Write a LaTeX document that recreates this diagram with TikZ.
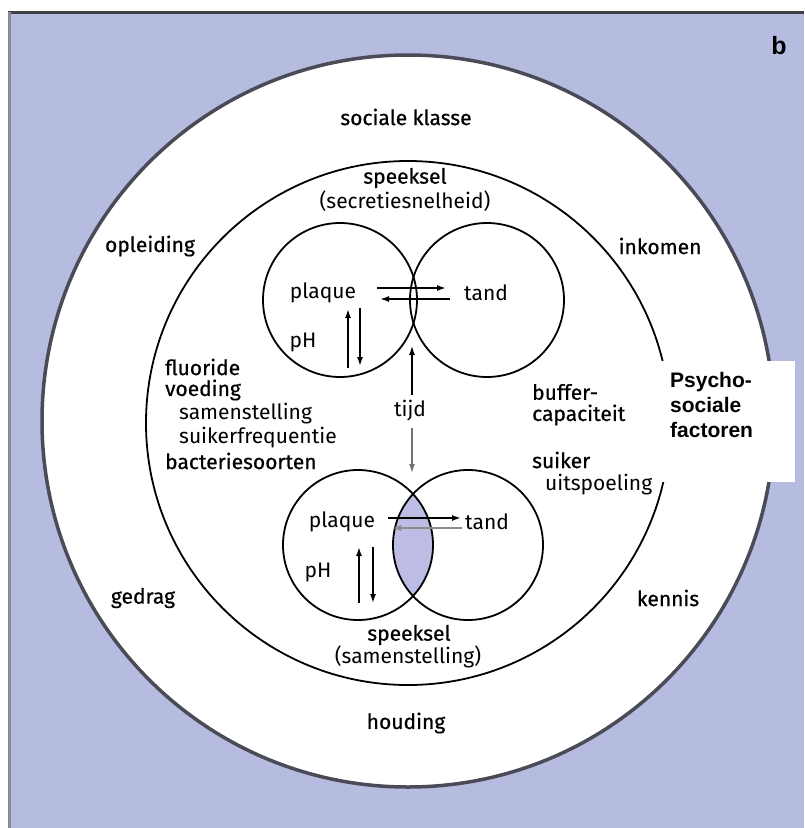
\documentclass[tikz,border=0pt]{standalone}
\usepackage{fontspec}
\setmainfont{Fira Sans}
\newfontfamily\medfont{Fira Sans}[FakeBold=0.6]
\newfontfamily\arialb{Liberation Sans Bold}
\usetikzlibrary{arrows.meta}
\definecolor{panel}{RGB}{182,187,224}
\definecolor{lensc}{RGB}{188,188,228}
\definecolor{ring}{RGB}{75,75,88}
\tikzset{
  lbl/.style={inner sep=0pt, font=\fontsize{21}{23.5}\selectfont},
  lblm/.style={inner sep=0pt, font=\medfont\fontsize{21}{23.5}\selectfont},
  arr/.style={line width=1.6pt, -{Latex[length=9pt,width=6pt]}},
  thin/.style={line width=1.8pt, draw=black},
}
\begin{document}
\begin{tikzpicture}[x=1pt,y=-1pt]
\useasboundingbox (0,0) rectangle (804,828);
\fill[white] (0,0) rectangle (804,828);
% panel
\fill[panel] (8,12) rectangle (804,828);
\draw[line width=3pt, draw=black!75] (8,12) -- (804,12);
\draw[line width=3pt, draw=black!45] (9,12) -- (9,828);
\node[font=\arialb\fontsize{25}{28}\selectfont, inner sep=0pt] (b) at (779,46) {b};
% outer and middle circles
\fill[white] (408,421) circle[radius=366];
\draw[line width=3.5pt, draw=ring] (408,421) circle[radius=366];
\draw[thin] (408,423) circle[radius=262];
% lens
\begin{scope}
\clip (358,545) circle[radius=75];
\fill[lensc] (468,545) circle[radius=75];
\end{scope}
% small circles
\draw[thin] (340,300) circle[radius=77];
\draw[thin] (487,300) circle[radius=77];
\draw[thin] (358,545) circle[radius=75];
\draw[thin] (468,545) circle[radius=75];
% psycho-sociale box
\fill[white] (650,361) rectangle (795,482);
\node[font=\arialb\fontsize{21}{25}\selectfont, inner sep=0pt, align=left, anchor=north west] (psy) at (670,372) {Psycho-\\sociale\\factoren};
% texts
\node[lblm] (sk) at (406,117) {sociale klasse};
\node[lblm] (sp1) at (405,178) {speeksel};
\node[lbl] (sp1b) at (405,201) {(secretiesnelheid)};
\node[lblm] (opl) at (150,246) {opleiding};
\node[lblm] (ink) at (660,246) {inkomen};
\node[lbl] (pl1) at (323,293) {plaque};
\node[lbl] (ta1) at (486,293) {tand};
\node[lbl] (ph1) at (303,342) {pH};
\node[lblm, anchor=west] (flu) at (165,367) {fluoride};
\node[lblm, anchor=west] (voe) at (165,390) {voeding};
\node[lbl, anchor=west] (sam) at (179,414) {samenstelling};
\node[lbl, anchor=west] (suf) at (179,438) {suikerfrequentie};
\node[lblm, anchor=west] (bac) at (165,461) {bacteriesoorten};
\node[lbl, fill=white, inner sep=3pt] (tijd) at (410,411) {tijd};
\node[lblm, anchor=west] (buf) at (532,392) {buffer-};
\node[lblm, anchor=west] (cap) at (532,415) {capaciteit};
\node[lblm, anchor=west] (sui) at (532,460) {suiker};
\node[lbl, anchor=west] (uit) at (545,485) {uitspoeling};
\node[lbl] (pl2) at (342,522) {plaque};
\node[lbl] (ta2) at (487,522) {tand};
\node[lbl] (ph2) at (318,572) {pH};
\node[lblm] (sp2) at (409,635) {speeksel};
\node[lbl] (sp2b) at (408,657) {(samenstelling)};
\node[lblm] (ged) at (143,598) {gedrag};
\node[lblm] (ken) at (668,598) {kennis};
\node[lblm] (hou) at (406,723) {houding};
% arrow end coordinates
\coordinate (a1s) at (377,288); \coordinate (a1e) at (446,288);
\coordinate (a2s) at (450,299); \coordinate (a2e) at (380,299);
\coordinate (v1s) at (348,368); \coordinate (v1e) at (348,309);
\coordinate (v2s) at (360,308); \coordinate (v2e) at (360,366);
\coordinate (ts) at (412,395); \coordinate (te) at (412,346);
\coordinate (bs) at (412,428); \coordinate (be) at (412,473);
\coordinate (b1s) at (388,518); \coordinate (b1e) at (461,518);
\coordinate (b2s) at (462,528); \coordinate (b2e) at (392,528);
\coordinate (w1s) at (359,603); \coordinate (w1e) at (359,547);
\coordinate (w2s) at (373,547); \coordinate (w2e) at (373,603);
% arrows
\draw[arr] (a1s) -- (a1e);
\draw[arr] (a2s) -- (a2e);
\draw[arr] (v1s) -- (v1e);
\draw[arr] (v2s) -- (v2e);
\draw[arr, line width=1.2pt] (ts) -- (te);
\draw[arr, line width=1.4pt, draw=black!55, fill=black] (bs) -- (be);
\draw[arr] (b1s) -- (b1e);
\draw[arr, draw=black!45, fill=black] (b2s) -- (b2e);
\draw[arr] (w1s) -- (w1e);
\draw[arr] (w2s) -- (w2e);
\end{tikzpicture}
\end{document}
